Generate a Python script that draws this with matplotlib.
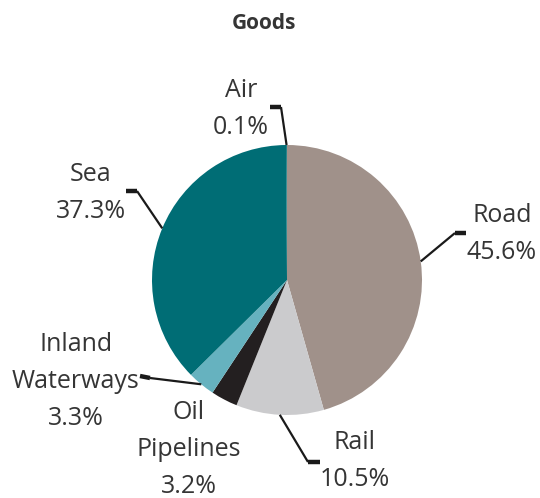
import numpy as np
import matplotlib.pyplot as plt

# Goods transport share by mode, clockwise from 12 o'clock.
modes = ['Road', 'Rail', 'Oil\nPipelines', 'Inland\nWaterways', 'Sea', 'Air']
shares = [45.6, 10.5, 3.2, 3.3, 37.3, 0.1]
colours = ['#a0918a', '#cbcbcd', '#231f20', '#66b2bf', '#006d75', '#006d75']

# label centre (px, top-left origin) and leader elbow for each mode
label_xy = [(502, 234), (355, 461), (189, 449), (76, 381), (91, 193), (241, 109)]
elbows = [((455, 233), (466, 233)),
          ((308, 462), (320, 462)),
          None,
          ((150, 378), (140, 376)),
          ((137, 191), (126, 191)),
          ((281, 107), (270, 107))]

W, H = 540, 498
CX, CY, R = 287, 280, 135
LINE = 37  # px between label lines
TXT = '#353535'

plt.rcParams['font.family'] = ['Open Sans', 'DejaVu Sans']


def py(y):
    # pixel row -> data y
    return H - y


fig = plt.figure(figsize=(W / 100, H / 100), dpi=100)
ax = fig.add_axes([0, 0, 1, 1])

wedges, _ = ax.pie(shares, colors=colours, startangle=90, counterclock=False,
                   center=(CX, py(CY)), radius=R, frame=True,
                   wedgeprops=dict(linewidth=0))
ax.set_xlim(0, W)
ax.set_ylim(0, H)
ax.axis('off')

for w, name, val, (lx, ly), elb in zip(wedges, modes, shares, label_xy, elbows):
    lines = name.split('\n') + ['%.1f%%' % val]
    top = ly - LINE * (len(lines) - 1) / 2
    for k, s in enumerate(lines):
        ax.text(lx, py(top + k * LINE), s, ha='center', va='center',
                fontsize=18, color=TXT)
    if elb is None:
        continue
    mid = np.deg2rad((w.theta1 + w.theta2) / 2)
    ex = CX + R * np.cos(mid)
    ey = py(CY) + R * np.sin(mid)
    (bx, by), (tx, ty) = elb
    ax.plot([ex, bx], [ey, py(by)], color='#1a1a1a', lw=1.6,
            solid_capstyle='butt')
    ax.plot([bx, tx], [py(by), py(ty)], color='#1a1a1a', lw=3.2,
            solid_capstyle='butt')

ax.text(264, py(23), 'Goods', ha='center', va='center', fontsize=15,
        fontweight='bold', color=TXT)

fig.savefig('out.png', dpi=100)
